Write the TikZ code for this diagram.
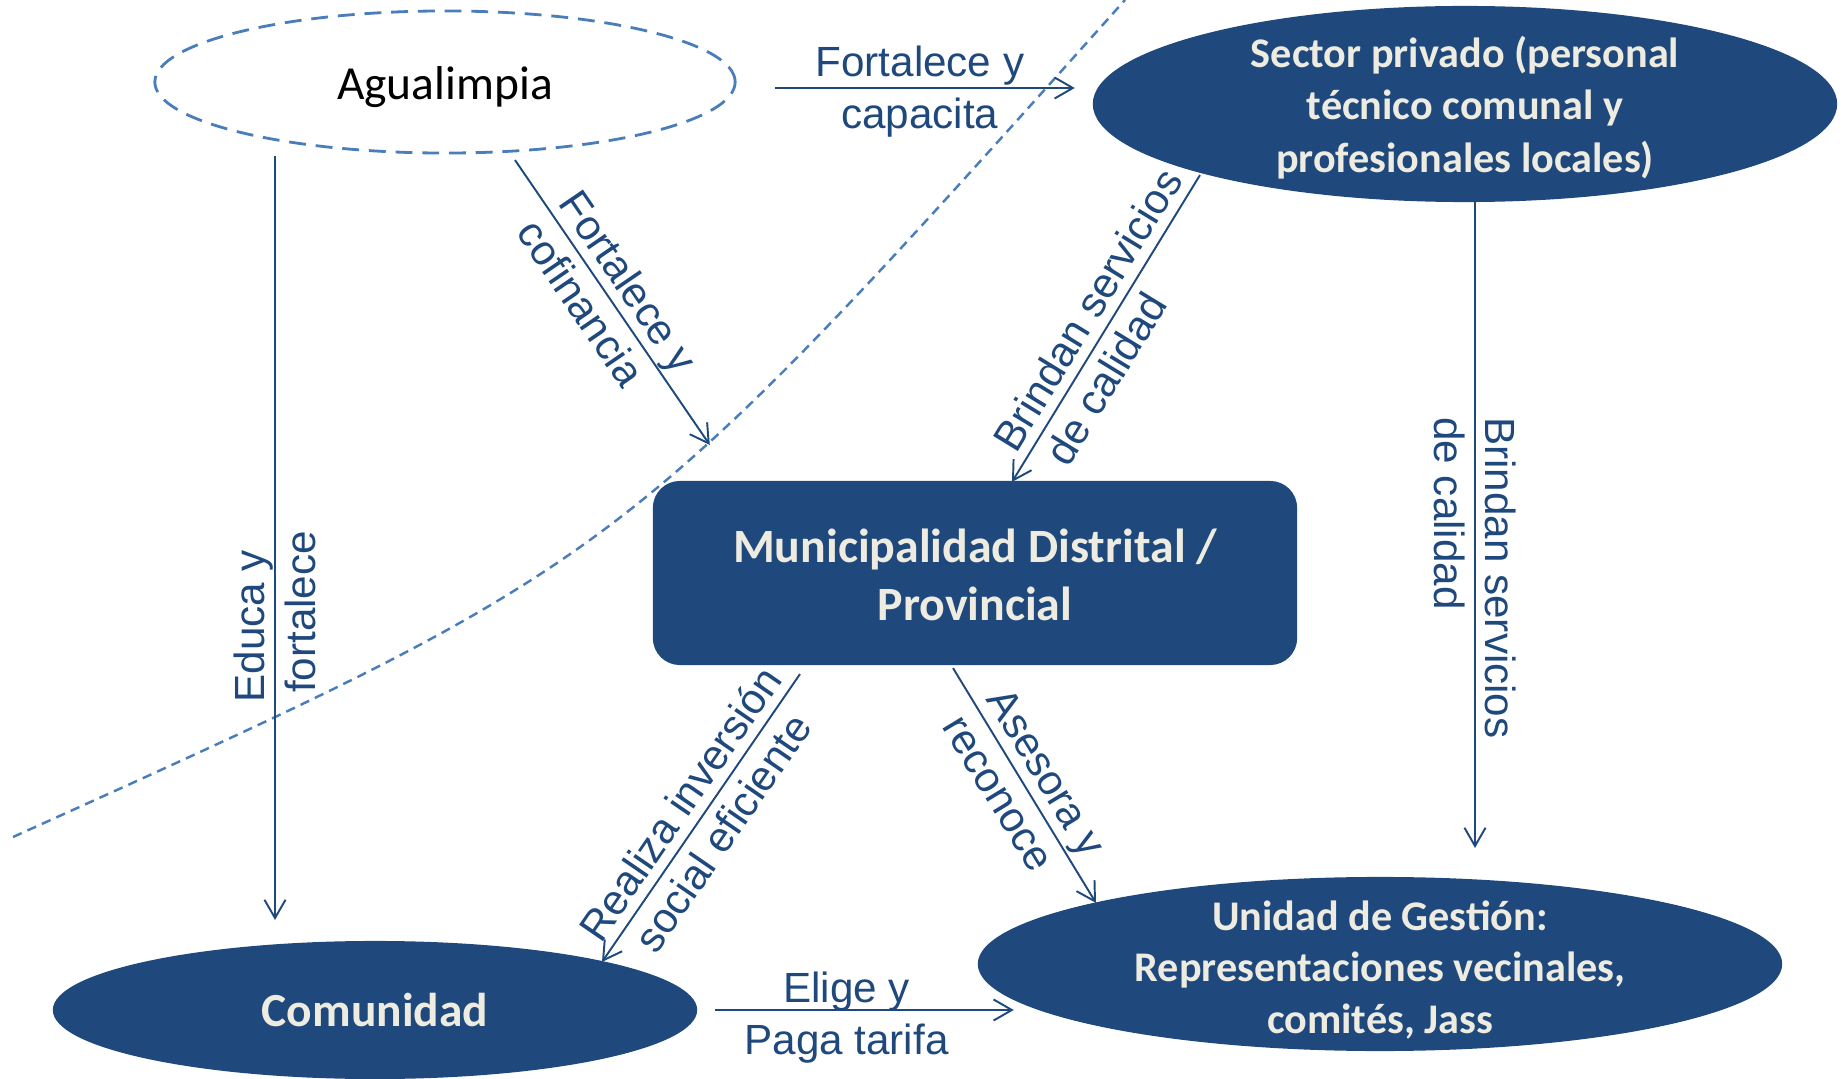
\documentclass[tikz,border=0pt]{standalone}
\usepackage{fontspec}
\setmainfont{Carlito}
\newfontfamily\arialf{Liberation Sans}
\usetikzlibrary{shapes.geometric,arrows.meta,calc}
\definecolor{dblue}{RGB}{31,73,125}
\definecolor{cream}{RGB}{238,236,225}
\definecolor{dashblue}{RGB}{74,126,187}
\begin{document}
\begin{tikzpicture}[x=0.01cm, y=-0.01cm,
  arr/.style={draw=dblue, line width=0.55pt, -{Straight Barb[length=5.2pt,width=6pt]}},
  elabel/.style={font=\arialf\fontsize{12}{14.7}\selectfont, text=dblue, inner sep=0pt},
  blueell/.style={ellipse, fill=dblue, draw=none, inner sep=0pt, outer sep=0pt},
  ntext/.style={font=\bfseries\fontsize{12}{14.9}\selectfont, text=cream, align=center, inner sep=0pt},
  dashcurve/.style={draw=dashblue, line width=0.7pt, dash pattern=on 2.7pt off 1.8pt},
  dashell/.style={ellipse, draw=dashblue, line width=0.8pt, dash pattern=on 4.8pt off 2.8pt, inner sep=0pt, outer sep=0pt}
]
\useasboundingbox (0,0) rectangle (1844,1079);
% dashed boundary curve
\draw[dashcurve] (13,837) .. controls (622,562) and (622,562) .. (1125,0);
% nodes
\node[dashell, minimum width=5.8cm, minimum height=1.42cm, font=\fontsize{13.5}{16}\selectfont] (agua) at (445,82) {\raisebox{-1.5pt}[\height][\depth]{Agualimpia}};
\node[blueell, minimum width=7.44cm, minimum height=1.96cm,
  label={[ntext, yshift=-1pt]center:{Sector privado (personal\\técnico comunal y\\profesionales locales)}}] (sector) at (1465,104) {};
\node[fill=dblue, draw=none, rounded corners=0.27cm, minimum width=6.44cm, minimum height=1.84cm, inner sep=0pt, outer sep=0pt,
  font=\bfseries\fontsize{13.6}{16.4}\selectfont, text=cream, align=center] (muni) at (975,573) {\raisebox{-0.6pt}[\height][\depth]{Municipalidad Distrital /}\\\raisebox{-0.6pt}[\height][\depth]{Provincial}};
\node[blueell, minimum width=6.44cm, minimum height=1.38cm, font=\bfseries\fontsize{13.5}{16}\selectfont, text=cream] (comu) at (375,1010) {Comunidad};
\node[blueell, minimum width=8.04cm, minimum height=1.74cm,
  label={[ntext, font=\bfseries\fontsize{12}{14.6}\selectfont, yshift=-1.7pt]center:{Unidad de Gestión:\\Representaciones vecinales,\\comités, Jass}}] (unid) at (1380,964) {};
% connectors
\draw[arr] ($(agua.east)+(40,6)$) -- node[elabel, pos=0.483, align=center, yshift=-1.1pt] {Fortalece y\\capacita} ($(sector.west)+(-18,-16)$);
\draw[arr] ($(agua.south)+(70,7)$) -- node[elabel, sloped, pos=0.477, align=left] {Fortalece y\\cofinancia} ($(muni.north west)+(57,-36)$);
\draw[arr] ($(agua.south)+(-170,3)$) -- node[elabel, pos=0.603, rotate=90, align=left] {Educa y\\\hspace*{2.7pt}fortalece} ($(comu.north)+(-100,-21)$);
\draw[arr] ($(sector.south)+(-265,-27)$) -- node[elabel, sloped, pos=0.482, align=left] {Brindan servicios\\\hspace*{4.3pt}de calidad} ($(muni.north)+(37,1)$);
\draw[arr] ($(sector.south)+(10,0)$) -- node[elabel, pos=0.582, rotate=-90, align=left] {Brindan servicios\\de calidad} ($(unid.north)+(95,-29)$);
\draw[arr] ($(muni.south)+(-175,9)$) -- node[elabel, sloped, midway, align=center] {Realiza inversión\\social eficiente} ($(comu.north)+(227,21)$);
\draw[arr] ($(muni.south)+(-22,3)$) -- node[elabel, sloped, midway, align=left] {Asesora y\\reconoce} ($(unid.north)+(-284,26)$);
\draw[arr] ($(comu.east)+(18,0)$) -- node[elabel, pos=0.44, align=center, yshift=-2.2pt] {Elige y\\Paga tarifa} ($(unid.west)+(36,46)$);
\end{tikzpicture}
\end{document}
